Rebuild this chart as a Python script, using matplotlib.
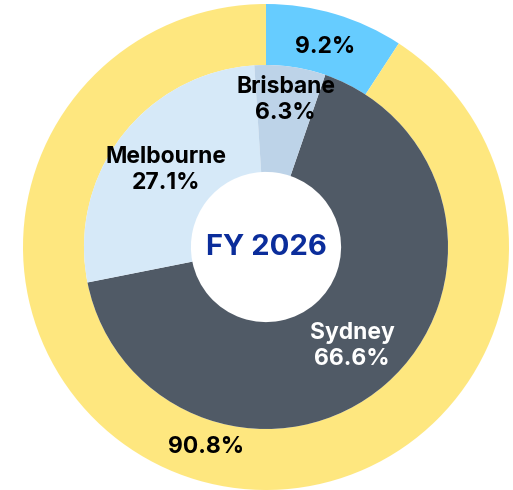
import numpy as np
import matplotlib.pyplot as plt

plt.rcParams['font.family'] = ['Inter', 'DejaVu Sans']

# outer ring
outer_values = [9.2, 90.8]
outer_colors = ['#66ccff', '#fee77f']

# inner pie
cities = ['Sydney', 'Melbourne', 'Brisbane']
city_values = [66.6, 27.1, 6.3]
city_colors = ['#505a66', '#d6e9f8', '#bdd3e8']
city_text = ['white', 'black', 'black']
city_label_r = [0.54, 0.52, 0.61]

center_title = 'FY 2026'

fig = plt.figure(figsize=(5.13, 4.9), dpi=100)
ax = fig.add_axes([23/513, 0/490, 486/513, 486/490])

r_outer = 1.0
r_inner = 0.749
r_hole = 0.309

w_out, _ = ax.pie(outer_values, colors=outer_colors, radius=r_outer, startangle=90,
                  counterclock=False, wedgeprops=dict(width=r_outer - r_inner, linewidth=0))
for w, v in zip(w_out, outer_values):
    mid = np.deg2rad((w.theta1 + w.theta2) / 2)
    rr = 0.86
    ax.text(rr*np.cos(mid), rr*np.sin(mid), '%.1f%%' % v, ha='center', va='center',
            fontsize=16.5, fontweight='bold', color='black')

w_in, _ = ax.pie(city_values, colors=city_colors, radius=r_inner, startangle=71,
                 counterclock=False, wedgeprops=dict(width=r_inner - r_hole, linewidth=0))
for w, name, v, c, rr in zip(w_in, cities, city_values, city_text, city_label_r):
    mid = np.deg2rad((w.theta1 + w.theta2) / 2)
    ax.text(rr*np.cos(mid), rr*np.sin(mid), '%s\n%.1f%%' % (name, v), ha='center', va='center',
            fontsize=16.5, fontweight='bold', color=c, linespacing=1.2)

ax.text(0, 0, center_title, ha='center', va='center', fontsize=21, fontweight='bold', color='#0b2d9b')

ax.set_xlim(-1, 1)
ax.set_ylim(-1, 1)
ax.set_aspect('equal')
ax.axis('off')

plt.savefig('out.png', dpi=100)
